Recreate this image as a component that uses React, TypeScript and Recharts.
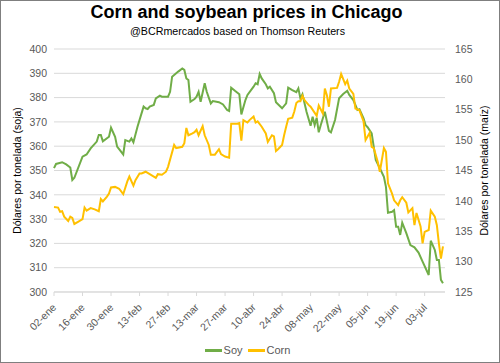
import React from 'react';
import {
  LineChart,
  Line,
  CartesianGrid,
  XAxis,
  YAxis,
  Legend,
} from 'recharts';

// days counted from 02-ene
const xTickDays = [0, 14, 28, 42, 56, 70, 84, 98, 112, 126, 140, 154, 168, 182];
const xTickLabels = [
  '02-ene', '16-ene', '30-ene', '13-feb', '27-feb', '13-mar', '27-mar',
  '10-abr', '24-abr', '08-may', '22-may', '05-jun', '19-jun', '03-jul',
];
const soyTicks = [300, 310, 320, 330, 340, 350, 360, 370, 380, 390, 400];
const cornTicks = [125, 130, 135, 140, 145, 150, 155, 160, 165];

const soyDays = [
  0, 1, 4, 6, 8, 9, 10, 14, 16, 18, 21, 22, 23, 24, 27, 28, 30, 31, 34, 35,
  37, 38, 39, 41, 44, 45, 46, 47, 49, 50, 52, 53, 56, 57, 58, 61, 63, 64, 65, 66,
  67, 69, 70, 71, 72, 74, 75, 77, 78, 81, 83, 85, 86, 87, 89, 91, 92, 94, 95, 98,
  99, 100, 101, 102, 104, 105, 106, 108, 109, 112, 114, 115, 117, 119, 120, 121, 122, 124, 126, 127,
  128, 129, 130, 131, 133, 135, 136, 138, 140, 142, 144, 145, 147, 149, 150, 152, 153, 154, 156, 157,
  158, 160, 162, 163, 164, 166, 167, 168, 169, 170, 171, 173, 175, 177, 179, 181, 184, 185, 187, 188,
  189, 190, 191,
];
const soyPrices = [
  351, 352.7, 353.4, 352.5, 351.2, 346.1, 347, 355.7, 356.6, 359.1, 361.9, 364.6, 364.6, 362, 363.9, 367.6, 363.9, 359.8, 356.6, 362.5,
  361.9, 363.2, 361.6, 368, 376.3, 375.6, 375.3, 376.3, 377, 379.7, 380.8, 380.4, 380.4, 382.4, 388.6, 390.7, 392, 391.4, 387.9, 387.2,
  378.3, 379.4, 380.4, 382.4, 378.3, 385.9, 382.4, 377.6, 378.6, 378.1, 377.2, 374.9, 374.5, 384.1, 382.7, 381.4, 373.1, 379, 381.1, 384.5,
  385.9, 385.5, 389.7, 387.9, 385.5, 383.8, 384.5, 381.8, 378.1, 375.6, 377.6, 384.1, 383.1, 382.2, 383.8, 379.7, 381.4, 374.2, 368.4, 372.1,
  368.7, 371.7, 365.7, 368.7, 374.2, 366.3, 365.7, 370.8, 379.7, 381.5, 382.8, 381.1, 379, 374.9, 375.2, 371.5, 368.7, 367.8, 365.3, 359.8,
  354.3, 350.9, 347.4, 343.3, 332.6, 333, 333.7, 326.9, 326.9, 323.5, 328.5, 324.2, 319.3, 318.4, 316.2, 312.5, 307, 321.1, 317.3, 313.2,
  313.2, 305, 303.6,
];

const cornDays = [
  0, 2, 3, 4, 5, 7, 8, 9, 10, 12, 14, 15, 16, 18, 20, 22, 23, 24, 26, 27,
  28, 30, 32, 34, 36, 37, 39, 40, 42, 43, 45, 47, 50, 51, 53, 55, 56, 59, 60, 63,
  64, 65, 66, 68, 69, 70, 71, 73, 74, 76, 77, 79, 81, 82, 84, 86, 87, 90, 91, 92,
  93, 95, 96, 98, 99, 100, 102, 104, 105, 107, 108, 109, 110, 112, 113, 114, 115, 117, 118, 119,
  120, 121, 122, 123, 125, 126, 129, 130, 132, 133, 134, 135, 136, 139, 140, 141, 143, 144, 145, 147,
  148, 150, 152, 153, 155, 156, 157, 159, 160, 162, 163, 164, 166, 167, 169, 170, 171, 173, 174, 176,
  177, 178, 180, 181, 182, 184, 185, 187, 188, 189, 190, 191,
];
const cornPrices = [
  139, 138.9, 138.2, 138.3, 137.4, 136.7, 137.4, 137.2, 136.2, 136.6, 137, 138.9, 138.4, 138.8, 138.6, 138.3, 140.3, 139.9, 140.7, 141.2,
  142.2, 142.3, 142, 141.1, 143.2, 144, 142.5, 143.4, 144.5, 144.5, 144.8, 144.4, 143.8, 144.4, 144.3, 144.8, 145.6, 149.2, 148.7, 148.9,
  149.5, 152, 150.8, 151.1, 151.3, 151.7, 150.8, 152.3, 150.8, 149.2, 147.6, 147.6, 148.5, 147.7, 147.3, 147.1, 152.7, 152.7, 152.8, 149.9,
  153.3, 152.9, 153.3, 153.9, 152.9, 153.1, 152.2, 151.1, 149.7, 150.8, 150.6, 148.2, 148.5, 149.2, 150.8, 152.2, 153.5, 153.7, 154.7, 156.1,
  156.4, 156.4, 157.3, 156.6, 155.8, 155.5, 154, 155.7, 154.4, 158.5, 157.4, 155.5, 158.5, 158.6, 159.6, 160.9, 159.2, 159.8, 158.5, 157.6,
  155.2, 154.9, 153.1, 150, 151.2, 148.9, 148.7, 146.4, 144.8, 148.7, 148.1, 142.9, 141.2, 140.1, 139.3, 140.1, 140.6, 139.7, 138.1, 138.8,
  136, 138, 135.8, 133, 134.9, 135.2, 138.4, 137.4, 136, 133, 130.5, 132.5,
];

const SOY_COLOR = '#70AD47';
const CORN_COLOR = '#FFC000';
const FONT = '"Liberation Sans", Arial, sans-serif';

const soyData = soyDays.map((day, i) => ({ day, value: soyPrices[i] }));
const cornData = cornDays.map((day, i) => ({ day, value: cornPrices[i] }));

const legendItems = [
  { name: 'Soy', color: SOY_COLOR },
  { name: 'Corn', color: CORN_COLOR },
];

const DateTick = ({ x, y, payload }: any) => {
  const idx = xTickDays.indexOf(payload.value);
  const ax = x + 3;
  const ay = y + 10;
  return (
    <text
      x={ax}
      y={ay}
      transform={`rotate(-45, ${ax}, ${ay})`}
      textAnchor="end"
      fontSize={10.5}
      fill="#595959"
      fontFamily={FONT}
    >
      {idx >= 0 ? xTickLabels[idx] : ''}
    </text>
  );
};

const LegendContent = () => (
  <div
    style={{
      display: 'flex',
      justifyContent: 'center',
      alignItems: 'center',
      fontSize: 11,
      color: '#595959',
      fontFamily: FONT,
    }}
  >
    {legendItems.map((item) => (
      <span
        key={item.name}
        style={{ display: 'flex', alignItems: 'center', marginRight: 5 }}
      >
        <span
          style={{
            display: 'inline-block',
            width: 17,
            height: 3,
            background: item.color,
            marginRight: 2,
          }}
        />
        {item.name}
      </span>
    ))}
  </div>
);

const tickStyle = { fontSize: 10.5, fill: '#595959', fontFamily: FONT };

const App = () => (
  <div
    style={{
      position: 'absolute',
      left: 0,
      top: 0,
      width: 500,
      height: 363,
      background: '#fff',
      fontFamily: FONT,
    }}
  >
    <div
      style={{
        position: 'absolute',
        left: 0,
        width: 493,
        top: 2,
        textAlign: 'center',
        fontWeight: 'bold',
        fontSize: 18,
        color: '#000',
      }}
    >
      Corn and soybean prices in Chicago
    </div>
    <div
      style={{
        position: 'absolute',
        left: 0,
        width: 475,
        top: 25,
        textAlign: 'center',
        fontSize: 10.7,
        color: '#000',
      }}
    >
      @BCRmercados based on Thomson Reuters
    </div>
    <LineChart
      width={500}
      height={363}
      margin={{ top: 49, right: 10, bottom: 26, left: 10 }}
      style={{ position: 'absolute', left: 0, top: 0 }}
    >
      <CartesianGrid
        yAxisId="soy"
        vertical={false}
        stroke="#d9d9d9"
        strokeWidth={1}
      />
      <XAxis
        dataKey="day"
        type="number"
        domain={[0, 192]}
        ticks={xTickDays}
        allowDuplicatedCategory={false}
        stroke="#d9d9d9"
        tickSize={4}
        tickMargin={2}
        tick={<DateTick />}
        height={45}
        interval={0}
      />
      <YAxis
        yAxisId="soy"
        orientation="left"
        domain={[300, 400]}
        ticks={soyTicks}
        width={44}
        axisLine={false}
        tickLine={false}
        tickMargin={1}
        tick={tickStyle}
        interval={0}
        label={{
          value: 'Dólares por tonelada (soja)',
          angle: -90,
          position: 'center',
          dx: -15,
          style: { fontSize: 10.5, fill: '#000', fontFamily: FONT },
        }}
      />
      <YAxis
        yAxisId="corn"
        orientation="right"
        domain={[125, 165]}
        ticks={cornTicks}
        width={45}
        axisLine={false}
        tickLine={false}
        tickMargin={4}
        tick={tickStyle}
        interval={0}
        label={{
          value: 'Dólares por tonelada (maíz)',
          angle: -90,
          position: 'center',
          dx: 17,
          style: { fontSize: 10.5, fill: '#000', fontFamily: FONT },
        }}
      />
      <Legend
        layout="horizontal"
        align="center"
        verticalAlign="middle"
        content={<LegendContent />}
        wrapperStyle={{ position: 'absolute', top: 344, left: 0, width: 500 }}
      />
      <Line
        yAxisId="soy"
        data={soyData}
        dataKey="value"
        name="Soy"
        stroke={SOY_COLOR}
        strokeWidth={2}
        dot={false}
        activeDot={false}
        isAnimationActive={false}
      />
      <Line
        yAxisId="corn"
        data={cornData}
        dataKey="value"
        name="Corn"
        stroke={CORN_COLOR}
        strokeWidth={2}
        dot={false}
        activeDot={false}
        isAnimationActive={false}
      />
    </LineChart>
    <div
      style={{
        position: 'absolute',
        left: 0,
        top: 0,
        width: 500,
        height: 363,
        boxSizing: 'border-box',
        border: '1px solid #7f7f7f',
        pointerEvents: 'none',
      }}
    />
  </div>
);

export default App;
